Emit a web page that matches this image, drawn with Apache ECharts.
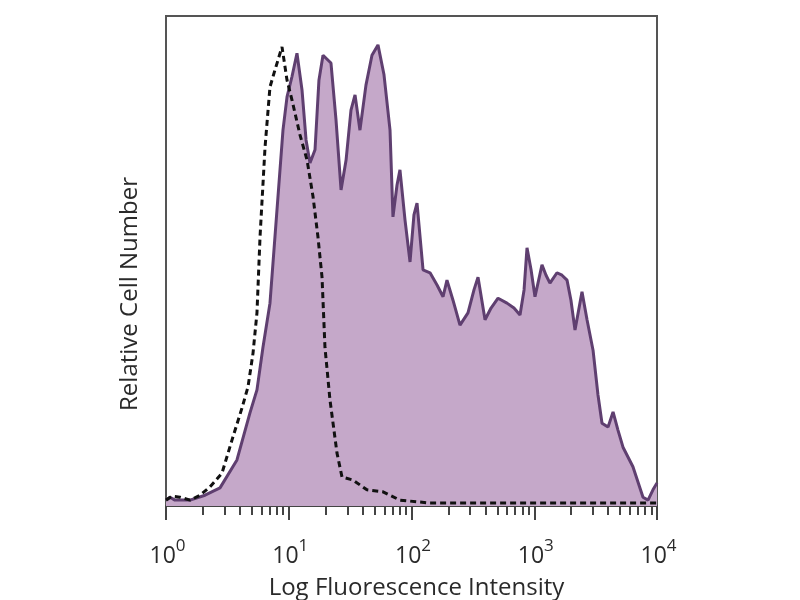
<!DOCTYPE html>
<html>
<head>
<meta charset="utf-8">
<script src="https://cdn.jsdelivr.net/npm/echarts@6/dist/echarts.min.js"></script>
<style>html,body{margin:0;padding:0;background:#fff}#c{width:800px;height:600px}</style>
</head>
<body>
<div id="c"></div>
<script>
// x positions are log10(fluorescence intensity); y is relative cell number (% of plot height)
var stainedLog = [0.000,0.033,0.073,0.196,0.318,0.440,0.578,0.684,0.741,0.790,0.847,0.904,0.953,0.986,1.026,1.067,1.108,1.141,1.173,1.214,1.246,1.279,1.344,1.385,1.426,1.467,1.507,1.540,1.580,1.629,1.678,1.727,1.776,1.825,1.849,1.882,1.906,1.947,1.988,2.020,2.045,2.094,2.151,2.208,2.257,2.289,2.338,2.395,2.460,2.509,2.542,2.599,2.648,2.705,2.778,2.835,2.884,2.917,2.941,2.974,3.006,3.063,3.096,3.128,3.185,3.226,3.267,3.299,3.332,3.389,3.430,3.479,3.519,3.552,3.601,3.642,3.682,3.723,3.804,3.886,3.927,3.967,4.000];
var stainedCount = [1.2,1.8,1.2,1.2,2.2,3.7,9.4,19.0,23.7,32.4,41.4,60.4,76.7,83.5,87.6,92.4,84.9,74.7,70.0,72.7,86.9,92.0,90.4,78.8,64.5,70.6,80.8,83.9,76.7,85.9,92.0,94.1,88.0,76.7,59.0,65.5,68.6,58.4,49.8,59.4,61.8,48.2,47.6,45.1,42.7,46.1,42.0,36.9,39.4,44.1,46.7,38.0,40.4,42.4,41.4,40.4,39.0,44.1,52.7,48.2,42.7,49.2,47.1,45.5,47.6,47.1,46.1,42.0,35.9,43.7,38.0,31.8,22.7,16.9,16.1,19.2,15.5,12.0,8.0,1.8,1.2,3.3,4.7];
var controlLog = [0.000,0.049,0.114,0.196,0.277,0.358,0.456,0.538,0.619,0.668,0.709,0.741,0.766,0.807,0.847,0.888,0.945,0.986,1.026,1.092,1.149,1.198,1.238,1.271,1.295,1.336,1.393,1.434,1.523,1.637,1.768,1.906,2.151,2.721,3.536,4.000];
var controlCount = [1.2,2.0,1.8,1.2,2.2,3.9,6.7,13.5,20.0,24.3,31.2,39.4,54.9,73.3,85.5,89.0,93.7,86.9,82.9,75.7,70.6,63.1,54.9,46.7,32.4,21.6,10.8,5.9,5.3,3.3,2.9,1.2,0.6,0.6,0.6,0.6];
var decadeExponents = [0,1,2,3,4];
var minorMultipliers = [2,3,4,5,6,7,8,9];
var xTitle = 'Log Fluorescence Intensity';
var yTitle = 'Relative Cell Number';

function zip(a,b){ return a.map(function(v,i){ return [v,b[i]]; }); }
var minorTicks = [];
decadeExponents.slice(0,-1).forEach(function(e){
  minorMultipliers.forEach(function(m){ minorTicks.push(e + Math.log10(m)); });
});

var chart = echarts.init(document.getElementById('c'));
var FONT = '"Open Sans", "DejaVu Sans", sans-serif';
var TXT = '#2a2a2a';
chart.setOption({
  backgroundColor: '#ffffff',
  animation: false,
  grid: { left: 166, right: 143, top: 16, bottom: 94, show: true, borderColor: '#555', borderWidth: 2, containLabel: false, outerBoundsMode: 'none' },
  xAxis: [{
    type: 'value', min: 0, max: 4, interval: 1, position: 'bottom',
    name: xTitle, nameLocation: 'middle', nameGap: 70,
    nameTextStyle: { fontFamily: FONT, fontSize: 24, color: TXT, padding: [0,0,0,10] },
    axisLine: { show: true, lineStyle: { color: '#444', width: 2 } },
    axisTick: { show: true, inside: false, length: 14, lineStyle: { color: '#444', width: 2 } },
    splitLine: { show: false },
    axisLabel: {
      margin: 32, fontFamily: FONT, color: TXT,
      formatter: function(v){ return '{p|}{b|10}{s|' + v + '}'; },
      rich: {
        p: { width: 3, fontSize: 23, fontFamily: FONT },
        b: { fontSize: 23, fontFamily: FONT, color: TXT, verticalAlign: 'bottom', lineHeight: 30 },
        s: { fontSize: 17, fontFamily: FONT, color: TXT, verticalAlign: 'top', lineHeight: 30 }
      }
    }
  }, {
    type: 'value', min: 0, max: 4, position: 'bottom',
    axisLine: { show: false },
    axisLabel: { show: false },
    splitLine: { show: false },
    axisTick: { show: true, inside: false, length: 9, customValues: minorTicks, lineStyle: { color: '#444', width: 2 } }
  }],
  yAxis: {
    type: 'value', min: 0, max: 100,
    name: yTitle, nameLocation: 'middle', nameGap: 24, nameRotate: 90,
    nameTextStyle: { fontFamily: FONT, fontSize: 24, color: TXT, padding: [0, 66, 0, 0] },
    axisLine: { show: true, lineStyle: { color: '#555', width: 2 } },
    axisTick: { show: false }, axisLabel: { show: false }, splitLine: { show: false }
  },
  series: [{
    type: 'line', name: 'Stained', data: zip(stainedLog, stainedCount),
    showSymbol: false, symbol: 'none',
    lineStyle: { color: '#5f3f70', width: 3 },
    areaStyle: { color: '#c5a8c9', opacity: 1 },
    z: 2
  }, {
    type: 'line', name: 'Control', data: zip(controlLog, controlCount),
    showSymbol: false, symbol: 'none',
    lineStyle: { color: '#111', width: 3, type: [6, 4] },
    z: 3
  }]
});
</script>
</body>
</html>
